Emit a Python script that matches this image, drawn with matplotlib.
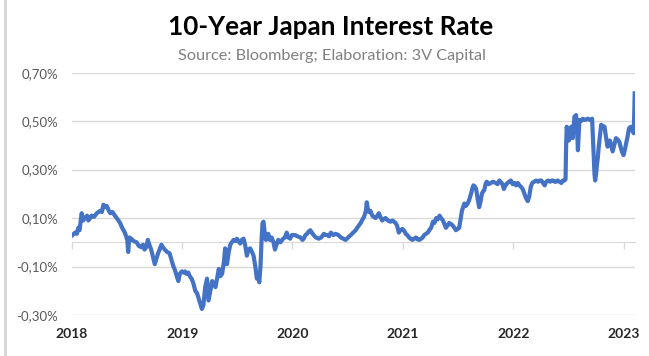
import matplotlib
matplotlib.use('Agg')
import matplotlib.pyplot as plt
import matplotlib.dates as mdates
from matplotlib.lines import Line2D
import pandas as pd

plt.rcParams['font.family'] = ['Lato', 'DejaVu Sans']

# 10y JGB yield (%)
dates = [
    '2018-01-03', '2018-01-11', '2018-01-17', '2018-01-22', '2018-01-26', '2018-02-02', '2018-02-07',
    '2018-02-13', '2018-02-20', '2018-02-24', '2018-03-02', '2018-03-07', '2018-03-15', '2018-03-24',
    '2018-04-04', '2018-04-10', '2018-04-15', '2018-04-20', '2018-04-26', '2018-05-03', '2018-05-08',
    '2018-05-15', '2018-05-23', '2018-06-01', '2018-06-09', '2018-06-16', '2018-06-25', '2018-07-03',
    '2018-07-06', '2018-07-10', '2018-07-16', '2018-07-24', '2018-08-03', '2018-08-10', '2018-08-18',
    '2018-08-24', '2018-08-29', '2018-09-04', '2018-09-09', '2018-09-14', '2018-09-20', '2018-09-26',
    '2018-10-02', '2018-10-07', '2018-10-13', '2018-10-18', '2018-10-24', '2018-10-29', '2018-11-04',
    '2018-11-12', '2018-11-20', '2018-11-28', '2018-12-03', '2018-12-08', '2018-12-14', '2018-12-19',
    '2018-12-24', '2018-12-31',
    '2019-01-05', '2019-01-10', '2019-01-15', '2019-01-21', '2019-01-26', '2019-02-01', '2019-02-07',
    '2019-02-13', '2019-02-19', '2019-02-24', '2019-03-01', '2019-03-07', '2019-03-12', '2019-03-18',
    '2019-03-24', '2019-03-29', '2019-04-04', '2019-04-10', '2019-04-15', '2019-04-21', '2019-04-26',
    '2019-05-02', '2019-05-07', '2019-05-13', '2019-05-19', '2019-05-23', '2019-05-29', '2019-06-04',
    '2019-06-09', '2019-06-14', '2019-06-20', '2019-06-26', '2019-07-01', '2019-07-06', '2019-07-12',
    '2019-07-17', '2019-07-23', '2019-07-28', '2019-08-03', '2019-08-08', '2019-08-14', '2019-08-20',
    '2019-08-25', '2019-08-31', '2019-09-05', '2019-09-09', '2019-09-13', '2019-09-17', '2019-09-21',
    '2019-09-24', '2019-09-27', '2019-10-01', '2019-10-05', '2019-10-09', '2019-10-13', '2019-10-18',
    '2019-10-24', '2019-10-30', '2019-11-04', '2019-11-09', '2019-11-15', '2019-11-22', '2019-12-01',
    '2019-12-07', '2019-12-13', '2019-12-18', '2019-12-24', '2019-12-30',
    '2020-01-10', '2020-01-17', '2020-01-27', '2020-02-03', '2020-02-07', '2020-02-13', '2020-02-18',
    '2020-02-24', '2020-02-29', '2020-03-05', '2020-03-11', '2020-03-18', '2020-03-28', '2020-04-05',
    '2020-04-14', '2020-04-20', '2020-04-25', '2020-05-01', '2020-05-07', '2020-05-15', '2020-05-23',
    '2020-06-01', '2020-06-09', '2020-06-17', '2020-06-25', '2020-07-03', '2020-07-12', '2020-07-20',
    '2020-07-28', '2020-08-05', '2020-08-14', '2020-08-20', '2020-08-25', '2020-08-31', '2020-09-03',
    '2020-09-06', '2020-09-10', '2020-09-15', '2020-09-21', '2020-09-26', '2020-10-02', '2020-10-08',
    '2020-10-13', '2020-10-18', '2020-10-24', '2020-10-29', '2020-11-04', '2020-11-12', '2020-11-20',
    '2020-11-27', '2020-12-07', '2020-12-12', '2020-12-18', '2020-12-23', '2020-12-30',
    '2021-01-06', '2021-01-10', '2021-01-15', '2021-01-21', '2021-01-26', '2021-02-01', '2021-02-07',
    '2021-02-13', '2021-02-18', '2021-02-24', '2021-03-02', '2021-03-07', '2021-03-12', '2021-03-18',
    '2021-03-24', '2021-03-29', '2021-04-04', '2021-04-10', '2021-04-15', '2021-04-21', '2021-04-26',
    '2021-05-02', '2021-05-07', '2021-05-13', '2021-05-18', '2021-05-23', '2021-05-29', '2021-06-03',
    '2021-06-09', '2021-06-14', '2021-06-20', '2021-06-25', '2021-07-01', '2021-07-06', '2021-07-10',
    '2021-07-15', '2021-07-19', '2021-07-23', '2021-07-28', '2021-08-03', '2021-08-08', '2021-08-14',
    '2021-08-19', '2021-08-22', '2021-08-27', '2021-08-31', '2021-09-05', '2021-09-10', '2021-09-15',
    '2021-09-19', '2021-09-23', '2021-09-27', '2021-10-01', '2021-10-05', '2021-10-12', '2021-10-19',
    '2021-10-26', '2021-11-04', '2021-11-10', '2021-11-16', '2021-11-20', '2021-11-26', '2021-12-01',
    '2021-12-06', '2021-12-13', '2021-12-18', '2021-12-24', '2021-12-30',
    '2022-01-05', '2022-01-10', '2022-01-16', '2022-01-21', '2022-01-26', '2022-02-01', '2022-02-07',
    '2022-02-13', '2022-02-18', '2022-02-23', '2022-02-28', '2022-03-05', '2022-03-11', '2022-03-18',
    '2022-03-24', '2022-03-30', '2022-04-04', '2022-04-09', '2022-04-15', '2022-04-20', '2022-04-26',
    '2022-05-03', '2022-05-08', '2022-05-13', '2022-05-18', '2022-05-23', '2022-05-28', '2022-06-03',
    '2022-06-09', '2022-06-14', '2022-06-19', '2022-06-23', '2022-06-25', '2022-06-27', '2022-07-01',
    '2022-07-04', '2022-07-08', '2022-07-12', '2022-07-15', '2022-07-17', '2022-07-20', '2022-07-23',
    '2022-07-26', '2022-07-28', '2022-07-31', '2022-08-03', '2022-08-06', '2022-08-08', '2022-08-13',
    '2022-08-19', '2022-08-26', '2022-09-05', '2022-09-12', '2022-09-19', '2022-09-21', '2022-09-24',
    '2022-09-27', '2022-09-29', '2022-10-02', '2022-10-05', '2022-10-08', '2022-10-11', '2022-10-15',
    '2022-10-19', '2022-10-24', '2022-10-30', '2022-11-02', '2022-11-04', '2022-11-07', '2022-11-09',
    '2022-11-13', '2022-11-17', '2022-11-21', '2022-11-26', '2022-12-01', '2022-12-07', '2022-12-12',
    '2022-12-18', '2022-12-23', '2022-12-28',
    '2023-01-01', '2023-01-05', '2023-01-10', '2023-01-15', '2023-01-19', '2023-01-23', '2023-01-27',
    '2023-02-01', '2023-02-04', '2023-02-07',
]
rates = [
    0.03, 0.04, 0.035, 0.06, 0.05, 0.12, 0.09,
    0.10, 0.11, 0.09, 0.10, 0.11, 0.105, 0.12,
    0.13, 0.125, 0.155, 0.145, 0.15, 0.13, 0.12,
    0.125, 0.11, 0.095, 0.08, 0.06, 0.04, 0.01,
    -0.04, 0.02, 0.015, 0.005, 0.0, -0.015, -0.02,
    -0.01, -0.03, -0.02, 0.01, -0.01, -0.03, -0.06,
    -0.09, -0.07, -0.045, -0.03, -0.01, -0.02, -0.03,
    -0.04, -0.045, -0.08, -0.10, -0.115, -0.14, -0.16,
    -0.13, -0.12,
    -0.125, -0.12, -0.13, -0.125, -0.14, -0.15, -0.17,
    -0.20, -0.21, -0.23, -0.25, -0.275, -0.26, -0.185,
    -0.15, -0.24, -0.20, -0.16, -0.17, -0.185, -0.15,
    -0.11, -0.14, -0.13, -0.08, -0.025, -0.09, -0.04,
    -0.01, 0.0, 0.01, 0.005, 0.015, 0.005, -0.005,
    0.01, 0.015, -0.01, -0.055, -0.03, -0.025, -0.04,
    -0.055, -0.10, -0.15, -0.13, -0.165, -0.10, 0.02,
    0.08, 0.085, 0.04, 0.01, 0.03, 0.035, 0.01,
    0.02, 0.0, -0.03, -0.01, 0.01, 0.0, 0.015,
    0.02, 0.04, 0.02, 0.015, 0.03,
    0.03, 0.025, 0.02, 0.01, 0.015, 0.03, 0.035,
    0.045, 0.05, 0.04, 0.03, 0.02, 0.015, 0.02,
    0.035, 0.03, 0.03, 0.025, 0.04, 0.03, 0.035,
    0.03, 0.02, 0.015, 0.01, 0.02, 0.03, 0.04,
    0.05, 0.065, 0.08, 0.095, 0.105, 0.13, 0.165,
    0.14, 0.125, 0.13, 0.11, 0.105, 0.10, 0.11,
    0.12, 0.105, 0.09, 0.095, 0.10, 0.09, 0.085,
    0.09, 0.08, 0.07, 0.04, 0.05, 0.055,
    0.045, 0.035, 0.03, 0.02, 0.015, 0.01, 0.015,
    0.02, 0.012, 0.01, 0.015, 0.02, 0.03, 0.035,
    0.04, 0.05, 0.06, 0.085, 0.08, 0.10, 0.095,
    0.11, 0.10, 0.09, 0.075, 0.06, 0.07, 0.08,
    0.075, 0.07, 0.06, 0.05, 0.055, 0.06, 0.09,
    0.13, 0.145, 0.16, 0.15, 0.16, 0.175, 0.20,
    0.225, 0.235, 0.23, 0.22, 0.18, 0.145, 0.17,
    0.20, 0.21, 0.215, 0.24, 0.25, 0.24, 0.245,
    0.25, 0.245, 0.24, 0.255, 0.25, 0.24, 0.22,
    0.235, 0.245, 0.25, 0.255, 0.24,
    0.245, 0.235, 0.245, 0.235, 0.23, 0.22, 0.20,
    0.18, 0.17, 0.19, 0.23, 0.245, 0.25, 0.255,
    0.25, 0.255, 0.255, 0.245, 0.235, 0.25, 0.255,
    0.25, 0.255, 0.255, 0.25, 0.25, 0.255, 0.25,
    0.245, 0.255, 0.255, 0.26, 0.40, 0.477, 0.44,
    0.42, 0.46, 0.477, 0.45, 0.43, 0.48, 0.52,
    0.51, 0.525, 0.47, 0.38, 0.45, 0.505, 0.50,
    0.51, 0.505, 0.51, 0.505, 0.51, 0.45, 0.355,
    0.28, 0.255, 0.28, 0.32, 0.35, 0.395, 0.44,
    0.485, 0.48, 0.477, 0.45, 0.435, 0.41, 0.395,
    0.41, 0.42, 0.40, 0.375, 0.40, 0.43, 0.425,
    0.415, 0.39, 0.37,
    0.36, 0.38, 0.41, 0.44, 0.47, 0.475, 0.477,
    0.457, 0.45, 0.615,
]

years = ['2018', '2019', '2020', '2021', '2022', '2023']
y_ticks = [-0.3, -0.1, 0.1, 0.3, 0.5, 0.7]

fig = plt.figure(figsize=(6.49, 3.56), dpi=100)
ax = fig.add_axes([72 / 649, 41 / 356, 563 / 649, 242.3 / 356])

x = mdates.date2num(pd.to_datetime(dates))
ax.plot(x, rates, color='#4472C4', lw=3.0, solid_joinstyle='round', zorder=3)

year_x = mdates.date2num(pd.to_datetime([y + '-01-01' for y in years]))
ax.set_xlim(year_x[0], x[-1] + 1)
ax.set_ylim(-0.3, 0.7)

ax.set_yticks(y_ticks)
ax.set_yticklabels([f'{v:.2f}%'.replace('.', ',') for v in y_ticks])
ax.grid(axis='y', color='#d9d9d9', lw=1)
ax.set_axisbelow(True)
for s in ['top', 'right', 'left']:
    ax.spines[s].set_visible(False)
ax.spines['bottom'].set_position(('data', 0))
ax.spines['bottom'].set_color('#d9d9d9')
ax.set_xticks(year_x)
ax.tick_params(axis='x', length=5, width=1, color='#d9d9d9', labelbottom=False)
ax.tick_params(axis='y', length=0, pad=10, labelcolor='#595959', labelsize=9.5)

# year labels sit at the bottom of the plot, the axis line itself is at 0
sec = ax.secondary_xaxis(0)
sec.set_xticks(year_x, labels=years)
sec.tick_params(length=0, pad=9, labelsize=10, labelcolor='#262626')
for lab in sec.get_xticklabels():
    lab.set_fontweight('bold')
for s in sec.spines.values():
    s.set_visible(False)

fig.text(0.509, 1 - 27 / 356, '10-Year Japan Interest Rate', ha='center', va='center',
         fontsize=18.8, fontweight='bold', color='black')
fig.text(0.512, 1 - 56 / 356, 'Source: Bloomberg; Elaboration: 3V Capital', ha='center',
         va='center', fontsize=11.7, color='#808080')

# faint frame shadow on the left edge
fig.add_artist(Line2D([0.007, 0.007], [0, 1], transform=fig.transFigure, color='#d6d6d6', lw=2))

fig.savefig('out.png', dpi=100, facecolor='white')
